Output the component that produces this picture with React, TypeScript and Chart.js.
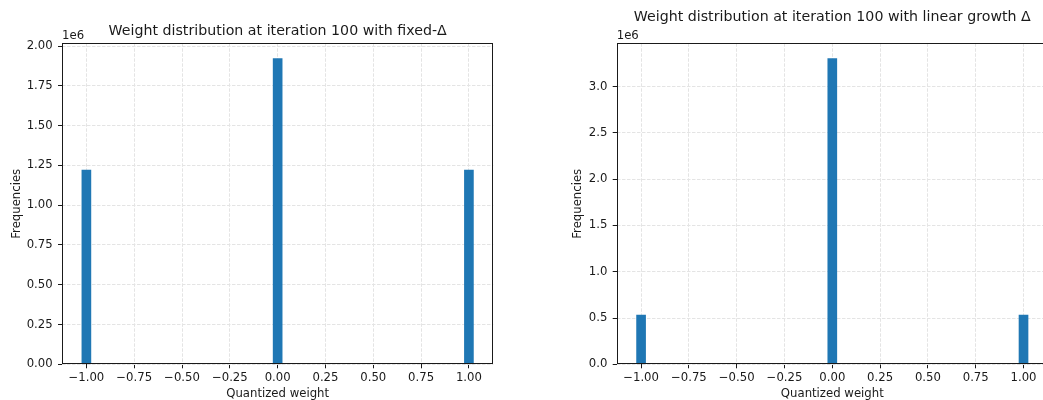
import React, { useEffect, useRef } from "react";
import { Chart, registerables } from "chart.js";

Chart.register(...registerables);
Chart.defaults.font.family = "'DejaVu Sans', sans-serif";

// ---- data ----
const binCenters = [-1, 0, 1];
const fixedDeltaFreq = [1.22e6, 1.921e6, 1.22e6];
const linearGrowthFreq = [0.532e6, 3.302e6, 0.532e6];
const xTickValues = [-1, -0.75, -0.5, -0.25, 0, 0.25, 0.5, 0.75, 1];
const fixedYTicks = [0, 0.25e6, 0.5e6, 0.75e6, 1.0e6, 1.25e6, 1.5e6, 1.75e6, 2.0e6];
const linearYTicks = [0, 0.5e6, 1.0e6, 1.5e6, 2.0e6, 2.5e6, 3.0e6];
const histRange = [-1.025, 1.025];
const fixedTitle = "Weight distribution at iteration 100 with fixed-\u0394";
const linearTitle = "Weight distribution at iteration 100 with linear growth \u0394";
const xLabel = "Quantized weight";
const yLabel = "Frequencies";
const offsetText = "1e6";

const TEXT = "#1a1a1a";
const GRID = "#e4e4e4";
const BAR = "#1f77b4";
const TICK_FONT = 11.7;
const TITLE_FONT = 14.2;

type Area = { left: number; top: number; right: number; bottom: number };

type PanelProps = {
  canvasW: number;
  canvasH: number;
  area: Area;
  freq: number[];
  yTicks: number[];
  decimals: number;
  title: string;
  titleY: number;
  yTitlePad: number;
};

const fmtX = (v: number) => (v < 0 ? "\u2212" : "") + Math.abs(v).toFixed(2);

function Panel(props: PanelProps) {
  const ref = useRef<HTMLCanvasElement | null>(null);
  useEffect(() => {
    const { canvasW, canvasH, area, freq, yTicks, decimals, title, titleY, yTitlePad } = props;
    const span = histRange[1] - histRange[0];
    const xMin = histRange[0] - 0.05 * span;
    const xMax = histRange[1] + 0.05 * span;
    const yMax = Math.max(...freq) * 1.05;

    const decor = {
      id: "decor",
      afterDatasetsDraw(chart: any) {
        const { ctx, chartArea: a } = chart;
        ctx.save();
        ctx.strokeStyle = TEXT;
        ctx.lineWidth = 1;
        const l = Math.round(a.left) + 0.5;
        const t = Math.round(a.top) + 0.5;
        const r = Math.round(a.right) - 0.5;
        const b = Math.round(a.bottom) - 0.5;
        ctx.strokeRect(l, t, r - l, b - t);
        ctx.restore();
      },
      afterDraw(chart: any) {
        const { ctx, chartArea: a } = chart;
        ctx.save();
        ctx.fillStyle = TEXT;
        ctx.textBaseline = "middle";
        ctx.textAlign = "center";
        ctx.font = `${TITLE_FONT}px 'DejaVu Sans', sans-serif`;
        ctx.fillText(title, (a.left + a.right) / 2, titleY);
        ctx.textAlign = "left";
        ctx.font = `${TICK_FONT}px 'DejaVu Sans', sans-serif`;
        ctx.fillText(offsetText, a.left, 35.7);
        ctx.restore();
      },
    };

    const chart = new Chart(ref.current as HTMLCanvasElement, {
      type: "bar",
      data: {
        datasets: [
          {
            data: binCenters.map((x, i) => ({ x, y: freq[i] })),
            backgroundColor: BAR,
            borderWidth: 0,
            barThickness: 9,
          },
        ],
      },
      options: {
        responsive: false,
        animation: false,
        events: [],
        layout: {
          padding: { left: 0, top: area.top, right: canvasW - area.right, bottom: 0 },
        },
        plugins: { legend: { display: false }, tooltip: { enabled: false }, title: { display: false } },
        scales: {
          x: {
            type: "linear",
            min: xMin,
            max: xMax,
            offset: false,
            afterFit: (s: any) => {
              s.height = canvasH - area.bottom;
            },
            afterBuildTicks: (s: any) => {
              s.ticks = xTickValues.map((v) => ({ value: v }));
            },
            ticks: {
              autoSkip: false,
              maxRotation: 0,
              minRotation: 0,
              padding: 3,
              color: TEXT,
              font: { size: TICK_FONT },
              callback: (v: any) => fmtX(Number(v)),
            },
            grid: {
              offset: false,
              color: GRID,
              tickColor: TEXT,
              tickLength: 4,
              tickWidth: 1,
              tickBorderDash: [],
              borderDash: [3.5, 1.5],
            } as any,
            border: { display: false, dash: [3.5, 1.5] },
            title: {
              display: true,
              text: xLabel,
              color: TEXT,
              font: { size: TICK_FONT, lineHeight: 1.2 },
              padding: { top: 0, bottom: 18.6 },
            },
          },
          y: {
            type: "linear",
            min: 0,
            max: yMax,
            afterFit: (s: any) => {
              s.width = area.left;
            },
            afterBuildTicks: (s: any) => {
              s.ticks = yTicks.map((v) => ({ value: v }));
            },
            ticks: {
              autoSkip: false,
              padding: 5.3,
              color: TEXT,
              font: { size: TICK_FONT },
              callback: (v: any) => (Number(v) / 1e6).toFixed(decimals),
            },
            grid: {
              color: GRID,
              tickColor: TEXT,
              tickLength: 4,
              tickWidth: 1,
              tickBorderDash: [],
              borderDash: [3.5, 1.5],
            } as any,
            border: { display: false, dash: [3.5, 1.5] },
            title: {
              display: true,
              text: yLabel,
              color: TEXT,
              font: { size: TICK_FONT, lineHeight: 1.2 },
              padding: { top: yTitlePad, bottom: 0 },
            },
          },
        },
      } as any,
      plugins: [decor],
    });
    return () => chart.destroy();
  }, []);
  return <canvas ref={ref} width={props.canvasW} height={props.canvasH} style={{ display: "block" }} />;
}

export default function App() {
  return (
    <div
      style={{
        position: "absolute",
        left: 0,
        top: 0,
        width: 1043,
        height: 400,
        overflow: "hidden",
        background: "#fff",
      }}
    >
      <div style={{ position: "absolute", left: 0, top: 0 }}>
        <Panel
          canvasW={520}
          canvasH={420}
          area={{ left: 62, top: 43.3, right: 493.3, bottom: 364.3 }}
          freq={fixedDeltaFreq}
          yTicks={fixedYTicks}
          decimals={2}
          title={fixedTitle}
          titleY={31}
          yTitlePad={9.7}
        />
      </div>
      <div style={{ position: "absolute", left: 520, top: 0 }}>
        <Panel
          canvasW={540}
          canvasH={420}
          area={{ left: 96.7, top: 43.3, right: 527.9, bottom: 364.3 }}
          freq={linearGrowthFreq}
          yTicks={linearYTicks}
          decimals={1}
          title={linearTitle}
          titleY={17.3}
          yTitlePad={51.3}
        />
      </div>
    </div>
  );
}
